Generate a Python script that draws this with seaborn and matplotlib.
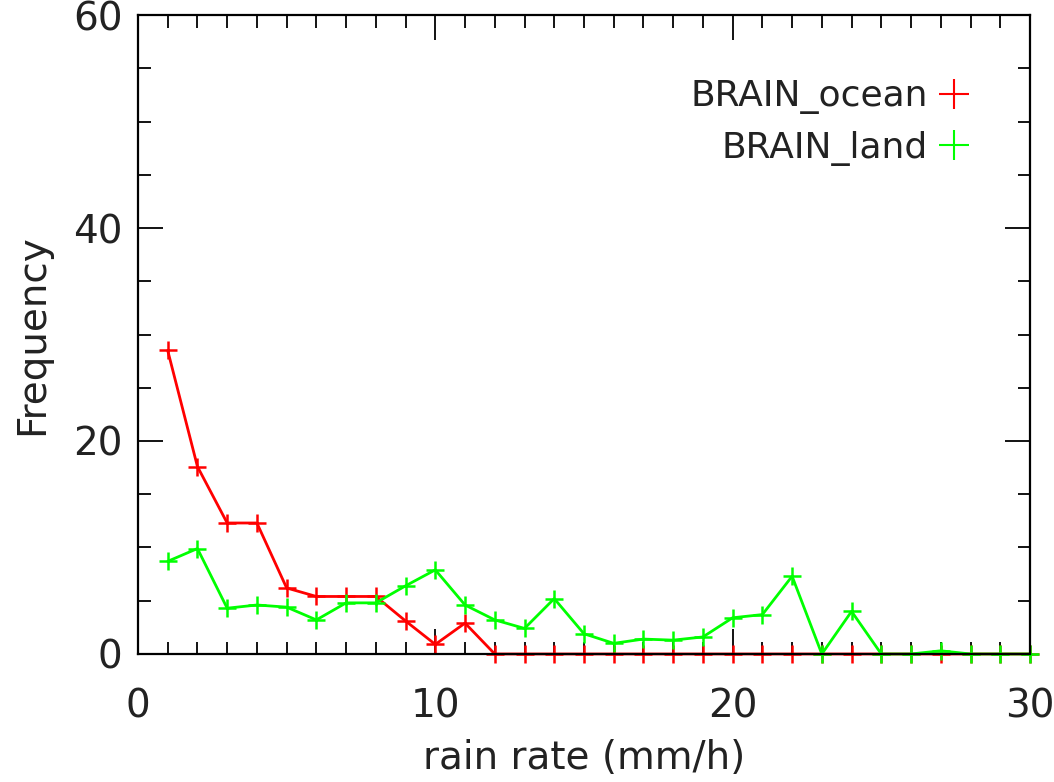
import matplotlib
matplotlib.use("Agg")
import matplotlib.pyplot as plt
from matplotlib.ticker import MultipleLocator
from matplotlib.lines import Line2D
import seaborn as sns
import pandas as pd

# rain-rate bins (mm/h)
rain_rate = list(range(1, 31))

# BRAIN retrieval frequency histograms
ocean_freq = [28.5, 17.6, 12.3, 12.3, 6.2, 5.4, 5.4, 5.4, 3.1, 0.9,
              2.9, 0, 0, 0, 0, 0, 0, 0, 0, 0,
              0, 0, 0, 0, 0, 0, 0, 0, 0, 0]
land_freq = [8.7, 9.9, 4.3, 4.6, 4.4, 3.2, 4.8, 4.8, 6.4, 7.9,
             4.6, 3.2, 2.4, 5.2, 1.9, 1.0, 1.4, 1.3, 1.6, 3.4,
             3.7, 7.3, 0.0, 4.0, 0.0, 0.0, 0.3, 0.0, 0.0, 0.0]

series_names = ["BRAIN_ocean", "BRAIN_land"]
series_colors = ["#ff0000", "#00ff00"]

sns.set_style("ticks")
plt.rcParams["font.family"] = ["DejaVu Sans"]

fig = plt.figure(figsize=(10.54, 7.82), dpi=100)
ax = fig.add_axes([0.1309, 0.1637, 0.9772 - 0.1309, 0.9808 - 0.1637])

df = pd.DataFrame({
    "rate": rain_rate * 2,
    "freq": ocean_freq + land_freq,
    "series": [series_names[0]] * len(rain_rate) + [series_names[1]] * len(rain_rate),
})

for name, color in zip(series_names, series_colors):
    sns.lineplot(data=df[df["series"] == name], x="rate", y="freq", ax=ax,
                 color=color, lw=2.0, marker="+", markersize=13,
                 markeredgewidth=1.8, markeredgecolor=color, clip_on=False)

ax.set_xlim(0, 30)
ax.set_ylim(0, 60)
ax.xaxis.set_major_locator(MultipleLocator(10))
ax.xaxis.set_minor_locator(MultipleLocator(1))
ax.yaxis.set_major_locator(MultipleLocator(20))
ax.yaxis.set_minor_locator(MultipleLocator(5))
ax.tick_params(which="both", direction="in", top=True, right=True,
               color="black", width=1.3)
ax.tick_params(which="major", length=18, labelsize=28, labelcolor="#222222")
ax.tick_params(which="minor", length=9)
ax.tick_params(axis="x", which="major", pad=24)
ax.tick_params(axis="y", which="major", pad=11)
for sp in ax.spines.values():
    sp.set_color("black")
    sp.set_linewidth(1.6)
    sp.set_visible(True)

ax.set_xlabel("rain rate (mm/h)", fontsize=28, color="#222222", labelpad=10)
ax.set_ylabel("Frequency", fontsize=28, color="#222222", labelpad=16)

handles = [Line2D([], [], ls="none", marker="+", markersize=22,
                  markeredgewidth=1.5, color=c) for c in series_colors]
leg = ax.legend(handles, series_names, loc="upper right", frameon=False,
                markerfirst=False, fontsize=26, handletextpad=0.1,
                labelspacing=0.45, bbox_to_anchor=(0.975, 0.95),
                handlelength=1.2)
for t in leg.get_texts():
    t.set_color("#222222")
    t.set_ha("right")

fig.savefig("out.png", dpi=100)
